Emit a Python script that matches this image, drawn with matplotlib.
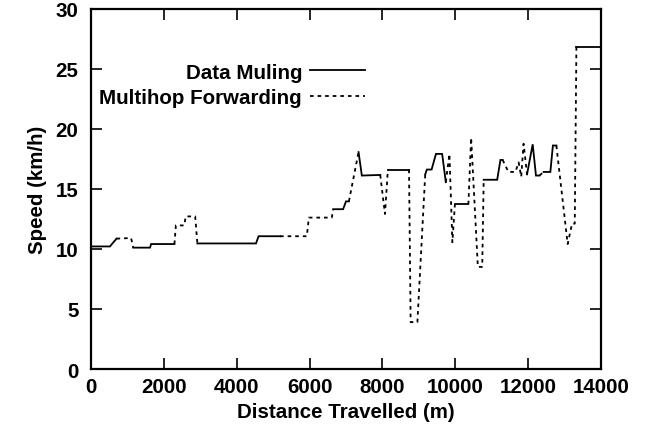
import matplotlib
matplotlib.use("Agg")
import matplotlib.pyplot as plt

# distance travelled (m), speed (km/h), and the mode of the segment that starts at each point
# S = Data Muling (solid), D = Multihop Forwarding (dotted)
dist = [0, 520, 700, 1100, 1160, 1620, 1650, 2290, 2330, 2560, 2600, 2860, 2920,
        4530, 4600, 5190, 5925, 5980, 6610, 6650, 6920, 7000, 7080, 7345, 7435,
        7940, 8070, 8150, 8730, 8775, 8960, 9175, 9220, 9350, 9470, 9640, 9740,
        9840, 9920, 9990, 10360, 10435, 10620, 10740, 10780, 11150, 11240, 11300,
        11460, 11650, 11740, 11810, 11875, 11970, 12125, 12215, 12310, 12425,
        12610, 12680, 12775, 13085, 13205, 13280, 13325, 14000]
speed = [10.2, 10.2, 10.85, 10.9, 10.1, 10.1, 10.4, 10.4, 11.95, 11.95, 12.7, 12.7, 10.45,
         10.45, 11.05, 11.05, 11.05, 12.6, 12.6, 13.3, 13.3, 13.95, 13.95, 18.05, 16.1,
         16.15, 12.9, 16.6, 16.6, 3.9, 3.9, 16.2, 16.6, 16.6, 17.9, 17.9, 15.55,
         17.9, 10.55, 13.7, 13.7, 19.25, 8.5, 8.5, 15.75, 15.75, 17.4, 17.4,
         16.4, 16.4, 17.2, 16.0, 18.75, 16.2, 18.7, 16.1, 16.1, 16.4,
         16.4, 18.6, 18.6, 10.4, 12.1, 12.1, 26.8, 26.8]
mode = ["S", "S", "D", "D", "S", "S", "S", "D", "D", "D", "D", "D", "S",
        "S", "S", "D", "D", "D", "D", "S", "S", "S", "D", "S", "S",
        "D", "D", "S", "D", "D", "D", "S", "S", "S", "S", "S", "D",
        "D", "D", "S", "D", "D", "D", "D", "S", "S", "S", "D",
        "D", "D", "D", "D", "D", "S", "S", "S", "D", "S",
        "S", "S", "D", "D", "D", "D", "S", "S"]

labels = {"S": "Data Muling", "D": "Multihop Forwarding"}

plt.rcParams["font.family"] = ["Liberation Sans", "DejaVu Sans"]
plt.rcParams["font.weight"] = "bold"
fs = 14.8

fig = plt.figure(figsize=(6.5, 4.35), dpi=100)
ax = fig.add_axes([0.14, 0.1494, 0.7846, 0.8287])

styles = {"S": "-", "D": (0, (2, 2.2))}
used = set()
i = 0
n = len(dist)
while i < n - 1:
    m = mode[i]
    j = i
    while j < n - 1 and mode[j] == m:
        j += 1
    lab = labels[m] if m not in used else None
    used.add(m)
    ax.plot(dist[i:j + 1], speed[i:j + 1], color="black", lw=1.3,
            linestyle=styles[m], label=lab, solid_joinstyle="miter")
    i = j

ax.set_xlim(0, 14000)
ax.set_ylim(0, 30)
ax.set_xticks(range(0, 14001, 2000))
ax.set_yticks(range(0, 31, 5))
ax.tick_params(direction="in", length=8, width=1.2, top=True, right=True,
               labelsize=fs)
ax.tick_params(axis="x", pad=6)
ax.tick_params(axis="y", pad=9)
for s in ax.spines.values():
    s.set_linewidth(1.6)

ax.set_xlabel("Distance Travelled (m)", fontsize=fs, fontweight="bold", labelpad=4)
ax.set_ylabel("Speed (km/h)", fontsize=fs, fontweight="bold", labelpad=6)

handles, labs = ax.get_legend_handles_labels()
order = [labs.index("Data Muling"), labs.index("Multihop Forwarding")]
ax.legend([handles[k] for k in order], [labs[k] for k in order],
          loc="upper right", bbox_to_anchor=(0.565, 0.89), frameon=False,
          markerfirst=False, handlelength=2.65, handletextpad=0.4,
          labelspacing=0.3, borderpad=0.2, prop={"size": fs, "weight": "bold"})

fig.savefig("out.png", dpi=100)
